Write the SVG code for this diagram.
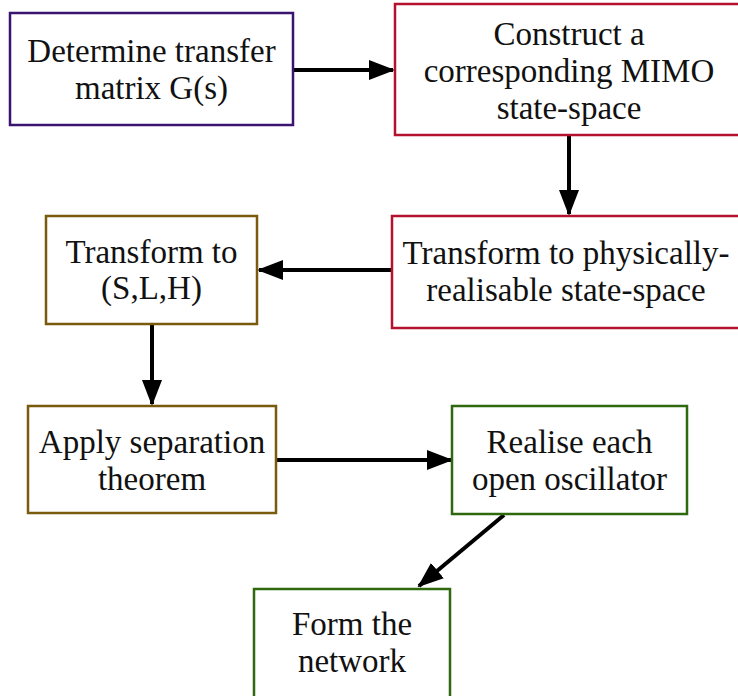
<svg xmlns="http://www.w3.org/2000/svg" width="738" height="696" viewBox="0 0 738 696">
  <style>
    .box { fill: #ffffff; stroke-width: 2.5; }
    .purple { stroke: #3a1470; }
    .red { stroke: #b3112e; }
    .brown { stroke: #7a5a0c; }
    .green { stroke: #2f680f; }
    .label { fill: #111111; text-anchor: middle; }
    .edge { stroke: #000000; stroke-width: 4; fill: none; marker-end: url(#head); }
  </style>
  <defs>
    <!-- filled arrowhead, about 26 long and 20 wide at stroke 4 -->
    <marker id="head" markerWidth="6.5" markerHeight="5" refX="6" refY="2.5" orient="auto" markerUnits="strokeWidth" viewBox="0 0 6.5 5">
      <path d="M0,0 L6.5,2.5 L0,5 Z" fill="#000000"/>
    </marker>
  </defs>

  <g id="connectors">
    <line class="edge" x1="293" y1="70" x2="393" y2="70"/>
    <line class="edge" x1="569" y1="135" x2="569" y2="214"/>
    <line class="edge" x1="392" y1="270" x2="259" y2="270"/>
    <line class="edge" x1="152" y1="324" x2="152" y2="404"/>
    <line class="edge" x1="276" y1="460" x2="451" y2="460"/>
    <line class="edge" x1="504" y1="515" x2="419" y2="586"/>
  </g>

  <g font-family="Liberation Serif" font-size="33">
    <g id="node-determine">
      <rect class="box purple" x="10" y="13" width="283" height="112"/>
      <text class="label" x="151.5" y="62">Determine transfer</text>
      <text class="label" x="151.5" y="99">matrix G(s)</text>
    </g>

    <g id="node-construct">
      <rect class="box red" x="395" y="4" width="345" height="131"/>
      <text class="label" x="569" y="45">Construct a</text>
      <text class="label" x="569" y="82">corresponding MIMO</text>
      <text class="label" x="569" y="119">state-space</text>
    </g>

    <g id="node-physical">
      <rect class="box red" x="392" y="216" width="348" height="112"/>
      <text class="label" x="566" y="264">Transform to physically-</text>
      <text class="label" x="566" y="301">realisable state-space</text>
    </g>

    <g id="node-slh">
      <rect class="box brown" x="46" y="216" width="211" height="108"/>
      <text class="label" x="151.5" y="263">Transform to</text>
      <text class="label" x="151.5" y="299">(S,L,H)</text>
    </g>

    <g id="node-separation">
      <rect class="box brown" x="28" y="406" width="248" height="107"/>
      <text class="label" x="152" y="453">Apply separation</text>
      <text class="label" x="152" y="490">theorem</text>
    </g>

    <g id="node-realise">
      <rect class="box green" x="452" y="406" width="235" height="108"/>
      <text class="label" x="569.5" y="453">Realise each</text>
      <text class="label" x="569.5" y="490">open oscillator</text>
    </g>

    <g id="node-network">
      <rect class="box green" x="254" y="589" width="196" height="120"/>
      <text class="label" x="352" y="635">Form the</text>
      <text class="label" x="352" y="672">network</text>
    </g>
  </g>
</svg>
